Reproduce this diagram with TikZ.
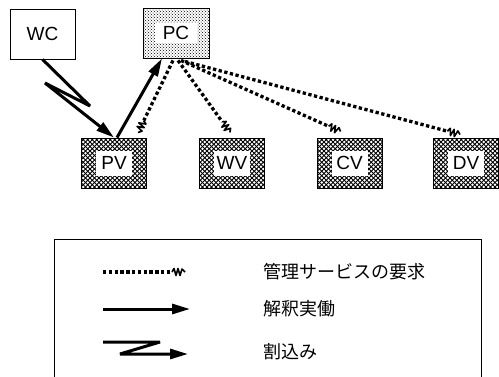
\documentclass[tikz,border=0pt]{standalone}
\usepackage{fontspec}
\setsansfont{Liberation Sans}
\newfontfamily\jpfont{Noto Sans CJK JP}
\usetikzlibrary{patterns,arrows.meta,decorations.markings}

\pgfdeclarepatternformonly{mesh}{\pgfpoint{-1pt}{-1pt}}{\pgfpoint{5.5pt}{5.5pt}}{\pgfpoint{4.5pt}{4.5pt}}{%
  \pgfsetlinewidth{1pt}
  \pgfpathmoveto{\pgfpoint{0pt}{0pt}}\pgfpathlineto{\pgfpoint{4.5pt}{4.5pt}}
  \pgfpathmoveto{\pgfpoint{0pt}{4.5pt}}\pgfpathlineto{\pgfpoint{4.5pt}{0pt}}
  \pgfusepath{stroke}}

\newcommand\reqtip{%
  \fill[white] (-13pt,-2.2pt) rectangle (1pt,2.2pt);
  \draw[solid, line width=1.6pt, line join=round]
    (-13pt,0) -- (-11pt,3.5pt) -- (-9pt,-3.5pt) -- (-7pt,3.5pt) -- (-5pt,-3.5pt) -- (-3pt,3pt) -- (0pt,0pt);}

\begin{document}
\begin{tikzpicture}[x=1pt, y=-1pt]

\tikzset{box/.style = {draw, line width=0.9pt, minimum width=65pt, minimum height=50pt, inner sep=0pt, font=\sffamily\fontsize{19}{19}\selectfont}}
\tikzset{vbox/.style = {box, pattern=mesh}}
\tikzset{lbl/.style = {fill=white, inner sep=0pt, minimum width=36pt, minimum height=25pt, font=\sffamily\fontsize{19}{19}\selectfont}}
\tikzset{run/.style = {line width=3pt, -{Triangle[length=18pt, width=10pt]}}}
\tikzset{intr/.style = {run, line join=miter, miter limit=4}}
\tikzset{req/.style = {line width=3.3pt, dash pattern=on 3.3pt off 2.5pt,
    postaction={decorate, decoration={markings, mark=at position 1 with {\reqtip}}}}}
\tikzset{jp/.style = {anchor=west, inner sep=0pt, font=\jpfont\fontsize{18}{18}\selectfont}}

\useasboundingbox (0,0) rectangle (499,376);

\node[box] (WC) at (42.5,34) {WC};
\node[box, pattern=crosshatch dots, minimum width=66pt,
      label={[lbl, minimum width=42pt, minimum height=20pt]center:PC}] (PC) at (176,33) {};

\node[vbox, label={[lbl]center:PV}] (PV) at (114,163) {};
\node[vbox, label={[lbl]center:WV}] (WV) at (232,163) {};
\node[vbox, label={[lbl]center:CV}] (CV) at (349.5,163) {};
\node[vbox, label={[lbl]center:DV}] (DV) at (466,163) {};

% interrupt and run
\draw[intr] (WC.south) -- (90,106) -- (45,83) -- (PV.north);
\draw[run] ([xshift=3pt]PV.north) -- ([xshift=-14pt]PC.south);

% service requests
\draw[req] ([xshift=-3pt,yshift=-2pt]PC.south) -- ([xshift=24pt,yshift=5pt]PV.north);
\draw[req] ([xshift=2pt,yshift=-2pt]PC.south) -- ([xshift=-2pt,yshift=5pt]WV.north);
\draw[req] ([xshift=5pt,yshift=-2pt]PC.south) -- ([xshift=-9pt,yshift=6pt]CV.north);
\draw[req] ([xshift=9pt,yshift=-3pt]PC.south) -- ([xshift=-6pt,yshift=3pt]DV.north);

% legend
\draw[line width=0.8pt] (54,380) -- (54,239) -- (481,239) -- (481,380);

\coordinate (r1) at (103,272);
\coordinate (r2) at (185,272);
\coordinate (e1) at (103,309);
\coordinate (e2) at (190,309);
\coordinate (i1) at (103,342);
\coordinate (i2) at (188,354);

\draw[req] (r1) -- (r2);
\draw[run] (e1) -- (e2);
\draw[intr] (i1) -- (160,342) -- (120,354) -- (i2);

\node[jp] (t1) at (263,272) {管理サービスの要求};
\node[jp] (t2) at (263,309) {解釈実働};
\node[jp] (t3) at (263,352) {割込み};

\end{tikzpicture}
\end{document}
